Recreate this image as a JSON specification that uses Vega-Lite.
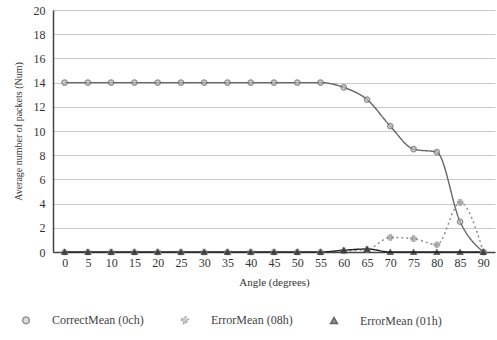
{
  "$schema": "https://vega.github.io/schema/vega-lite/v6.json",
  "width": 442,
  "height": 242,
  "autosize": {"type": "none"},
  "padding": {"left": 53, "top": 10, "right": 2, "bottom": 88},
  "background": "white",
  "config": {
    "font": "Liberation Serif",
    "view": {"stroke": null},
    "axis": {"labelFont": "Liberation Serif", "titleFont": "Liberation Serif", "titleFontWeight": "normal", "labelColor": "#333", "titleColor": "#333"},
    "legend": {"labelFont": "Liberation Serif"}
  },
  "data": {"values": [
    {"angle": 0, "series": "CorrectMean (0ch)", "value": 14},
    {"angle": 5, "series": "CorrectMean (0ch)", "value": 14},
    {"angle": 10, "series": "CorrectMean (0ch)", "value": 14},
    {"angle": 15, "series": "CorrectMean (0ch)", "value": 14},
    {"angle": 20, "series": "CorrectMean (0ch)", "value": 14},
    {"angle": 25, "series": "CorrectMean (0ch)", "value": 14},
    {"angle": 30, "series": "CorrectMean (0ch)", "value": 14},
    {"angle": 35, "series": "CorrectMean (0ch)", "value": 14},
    {"angle": 40, "series": "CorrectMean (0ch)", "value": 14},
    {"angle": 45, "series": "CorrectMean (0ch)", "value": 14},
    {"angle": 50, "series": "CorrectMean (0ch)", "value": 14},
    {"angle": 55, "series": "CorrectMean (0ch)", "value": 14},
    {"angle": 60, "series": "CorrectMean (0ch)", "value": 13.6},
    {"angle": 65, "series": "CorrectMean (0ch)", "value": 12.6},
    {"angle": 70, "series": "CorrectMean (0ch)", "value": 10.4},
    {"angle": 75, "series": "CorrectMean (0ch)", "value": 8.5},
    {"angle": 80, "series": "CorrectMean (0ch)", "value": 8.25},
    {"angle": 85, "series": "CorrectMean (0ch)", "value": 2.5},
    {"angle": 90, "series": "CorrectMean (0ch)", "value": 0},
    {"angle": 0, "series": "ErrorMean (08h)", "value": 0},
    {"angle": 5, "series": "ErrorMean (08h)", "value": 0},
    {"angle": 10, "series": "ErrorMean (08h)", "value": 0},
    {"angle": 15, "series": "ErrorMean (08h)", "value": 0},
    {"angle": 20, "series": "ErrorMean (08h)", "value": 0},
    {"angle": 25, "series": "ErrorMean (08h)", "value": 0},
    {"angle": 30, "series": "ErrorMean (08h)", "value": 0},
    {"angle": 35, "series": "ErrorMean (08h)", "value": 0},
    {"angle": 40, "series": "ErrorMean (08h)", "value": 0},
    {"angle": 45, "series": "ErrorMean (08h)", "value": 0},
    {"angle": 50, "series": "ErrorMean (08h)", "value": 0},
    {"angle": 55, "series": "ErrorMean (08h)", "value": 0},
    {"angle": 60, "series": "ErrorMean (08h)", "value": 0.1},
    {"angle": 65, "series": "ErrorMean (08h)", "value": 0.2},
    {"angle": 70, "series": "ErrorMean (08h)", "value": 1.2},
    {"angle": 75, "series": "ErrorMean (08h)", "value": 1.1},
    {"angle": 80, "series": "ErrorMean (08h)", "value": 0.6},
    {"angle": 85, "series": "ErrorMean (08h)", "value": 4.1},
    {"angle": 90, "series": "ErrorMean (08h)", "value": 0},
    {"angle": 0, "series": "ErrorMean (01h)", "value": 0},
    {"angle": 5, "series": "ErrorMean (01h)", "value": 0},
    {"angle": 10, "series": "ErrorMean (01h)", "value": 0},
    {"angle": 15, "series": "ErrorMean (01h)", "value": 0},
    {"angle": 20, "series": "ErrorMean (01h)", "value": 0},
    {"angle": 25, "series": "ErrorMean (01h)", "value": 0},
    {"angle": 30, "series": "ErrorMean (01h)", "value": 0},
    {"angle": 35, "series": "ErrorMean (01h)", "value": 0},
    {"angle": 40, "series": "ErrorMean (01h)", "value": 0},
    {"angle": 45, "series": "ErrorMean (01h)", "value": 0},
    {"angle": 50, "series": "ErrorMean (01h)", "value": 0},
    {"angle": 55, "series": "ErrorMean (01h)", "value": 0},
    {"angle": 60, "series": "ErrorMean (01h)", "value": 0.15},
    {"angle": 65, "series": "ErrorMean (01h)", "value": 0.25},
    {"angle": 70, "series": "ErrorMean (01h)", "value": 0},
    {"angle": 75, "series": "ErrorMean (01h)", "value": 0},
    {"angle": 80, "series": "ErrorMean (01h)", "value": 0},
    {"angle": 85, "series": "ErrorMean (01h)", "value": 0},
    {"angle": 90, "series": "ErrorMean (01h)", "value": 0}
  ]},
  "encoding": {
    "x": {"field": "angle", "type": "ordinal", "title": "Angle (degrees)",
      "scale": {"type": "point", "padding": 0.5},
      "axis": {"labelAngle": 0, "labelFontSize": 12, "titleFontSize": 11, "ticks": false, "domainColor": "#444", "domainWidth": 1.5, "labelPadding": 5, "titlePadding": 8, "grid": false}},
    "y": {"field": "value", "type": "quantitative", "title": "Average number of packets (Num)",
      "scale": {"domain": [0, 20], "nice": false},
      "axis": {"values": [0,2,4,6,8,10,12,14,16,18,20], "labelFontSize": 12, "titleFontSize": 10, "ticks": false, "domainColor": "#444", "domainWidth": 1.5, "gridColor": "#c8c8c8", "labelPadding": 8, "titlePadding": 10}},
    "color": {"field": "series", "type": "nominal", "title": null,
      "sort": ["CorrectMean (0ch)", "ErrorMean (08h)", "ErrorMean (01h)"],
      "scale": {"domain": ["CorrectMean (0ch)", "ErrorMean (08h)", "ErrorMean (01h)"], "range": ["#666666", "#888888", "#222222"]},
      "legend": {"orient": "none", "legendX": -33, "legendY": 304, "direction": "horizontal", "labelFontSize": 12, "labelColor": "#444", "symbolStrokeWidth": 1.5, "columnPadding": 34, "symbolSize": 45, "labelOffset": 20}}
  },
  "layer": [
    {
      "mark": {"type": "line", "interpolate": "monotone", "strokeWidth": 1.4},
      "encoding": {
        "strokeDash": {"field": "series", "type": "nominal", "title": null,
          "scale": {"domain": ["CorrectMean (0ch)", "ErrorMean (08h)", "ErrorMean (01h)"], "range": [[1, 0], [2, 3], [1, 0]]}, "legend": null}
      }
    },
    {
      "mark": {"type": "point", "size": 30, "strokeWidth": 1.2, "filled": false},
      "encoding": {
        "shape": {"field": "series", "type": "nominal", "title": null,
          "scale": {"domain": ["CorrectMean (0ch)", "ErrorMean (08h)", "ErrorMean (01h)"], "range": ["circle", "cross", "triangle-up"]}},
        "fill": {"field": "series", "type": "nominal", "title": null,
          "scale": {"domain": ["CorrectMean (0ch)", "ErrorMean (08h)", "ErrorMean (01h)"], "range": ["#bbbbbb", "#999999", "#222222"]}, "legend": null}
      }
    }
  ]
}
